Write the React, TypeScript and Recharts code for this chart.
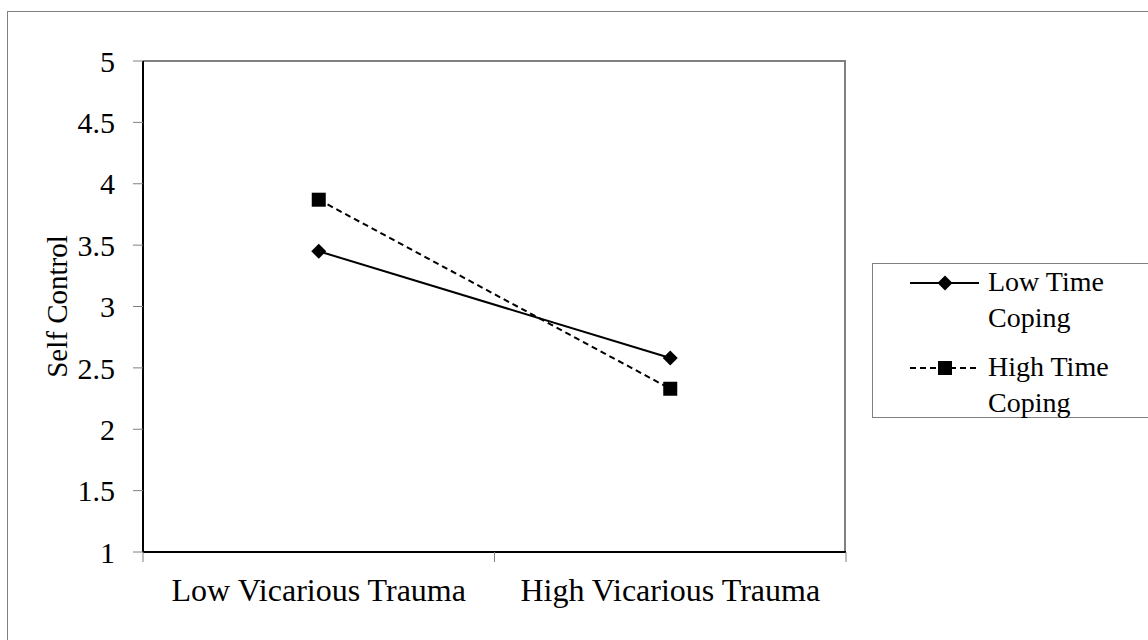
import React from 'react';
import { LineChart, Line, XAxis, YAxis } from 'recharts';

const FONT = "'Liberation Serif', 'Times New Roman', serif";

const categories = ['Low Vicarious Trauma', 'High Vicarious Trauma'];
const lowTimeCoping = [3.45, 2.58];
const highTimeCoping = [3.87, 2.33];
const yTicks = [1, 1.5, 2, 2.5, 3, 3.5, 4, 4.5, 5];

const SERIES = [
  { key: 'low', name: 'Low Time Coping', lines: ['Low Time', 'Coping'], dash: undefined as string | undefined, shape: 'diamond' },
  { key: 'high', name: 'High Time Coping', lines: ['High Time', 'Coping'], dash: '6 4', shape: 'square' },
];

const data = categories.map((c, i) => ({ cat: c, low: lowTimeCoping[i], high: highTimeCoping[i] }));

const Diamond = ({ cx, cy }: any) => {
  if (cx == null || cy == null) return null;
  const r = 7.5;
  return <path d={`M${cx},${cy - r}L${cx + r},${cy}L${cx},${cy + r}L${cx - r},${cy}Z`} fill="#000" />;
};

const Square = ({ cx, cy }: any) => {
  if (cx == null || cy == null) return null;
  return <rect x={cx - 7} y={cy - 7} width={14} height={14} fill="#000" />;
};

const CatTick = ({ x, y, payload }: any) => {
  const half = payload && payload.offset ? payload.offset : 175.75;
  return (
    <g>
      <line x1={x - half} x2={x - half} y1={552} y2={562} stroke="#808080" />
      <line x1={x + half} x2={x + half} y1={552} y2={562} stroke="#808080" />
      <text x={x} y={y} dy="0.71em" textAnchor="middle" fontSize={32} fontFamily={FONT} fill="#000">
        {payload.value}
      </text>
    </g>
  );
};

const YLabel = ({ viewBox }: any) => {
  const x = viewBox.x + 57;
  const y = viewBox.y + viewBox.height / 2;
  return (
    <text x={x} y={y} textAnchor="middle" dominantBaseline="central" fontSize={29} fontFamily={FONT}
      fill="#000" transform={`rotate(-90, ${x}, ${y})`}>
      Self Control
    </text>
  );
};

function LegendBox() {
  return (
    <div style={{
      position: 'absolute', left: 872, top: 263, width: 320, height: 155,
      border: '1px solid #808080', background: '#fff', boxSizing: 'border-box',
      fontFamily: FONT, fontSize: 28, color: '#000',
    }}>
      {SERIES.map((s, i) => (
        <div key={s.key} style={{ position: 'absolute', left: 0, top: i === 0 ? 0 : 85 }}>
          <svg width={70} height={38} style={{ position: 'absolute', left: 37, top: 0 }}>
            <line x1={0} x2={69} y1={19} y2={19} stroke="#000" strokeWidth={2} strokeDasharray={s.dash} />
            {s.shape === 'diamond' ? <Diamond cx={35} cy={19} /> : <Square cx={35} cy={19} />}
          </svg>
          <div style={{ position: 'absolute', left: 115, top: 0, lineHeight: '36px', whiteSpace: 'nowrap' }}>
            {s.lines.map(l => <div key={l}>{l}</div>)}
          </div>
        </div>
      ))}
    </div>
  );
}

export default function App() {
  return (
    <div style={{ position: 'absolute', left: 0, top: 0, width: 1148, height: 640, overflow: 'hidden', background: '#fff' }}>
      <div style={{ position: 'absolute', left: 7, top: 11, width: 1300, height: 800, border: '1px solid #808080' }} />
      {/* plot frame: grey top and right edges */}
      <div style={{ position: 'absolute', left: 143, top: 60, width: 703, height: 492, borderTop: '2px solid #808080', borderRight: '2px solid #808080', boxSizing: 'border-box' }} />
      <div style={{ position: 'absolute', left: 0, top: 0 }}>
        <LineChart width={1148} height={640} data={data} margin={{ top: 61, right: 302, bottom: 28, left: 0 }}>
          <XAxis dataKey="cat" scale="band" tickLine={false} tickSize={0} tickMargin={26} height={60}
            axisLine={{ stroke: '#000', strokeWidth: 2 }} tick={<CatTick />} interval={0} />
          <YAxis domain={[1, 5]} ticks={yTicks} width={143} tickSize={10} tickMargin={18}
            axisLine={{ stroke: '#000', strokeWidth: 2 }} tickLine={{ stroke: '#808080' }}
            tick={{ fontSize: 30, fontFamily: FONT, fill: '#000' }} label={<YLabel />} />
          {SERIES.map(s => (
            <Line key={s.key} dataKey={s.key} name={s.name} stroke="#000" strokeWidth={2}
              strokeDasharray={s.dash} dot={s.shape === 'diamond' ? <Diamond /> : <Square />}
              activeDot={false} isAnimationActive={false} />
          ))}
        </LineChart>
      </div>
      <LegendBox />
    </div>
  );
}
